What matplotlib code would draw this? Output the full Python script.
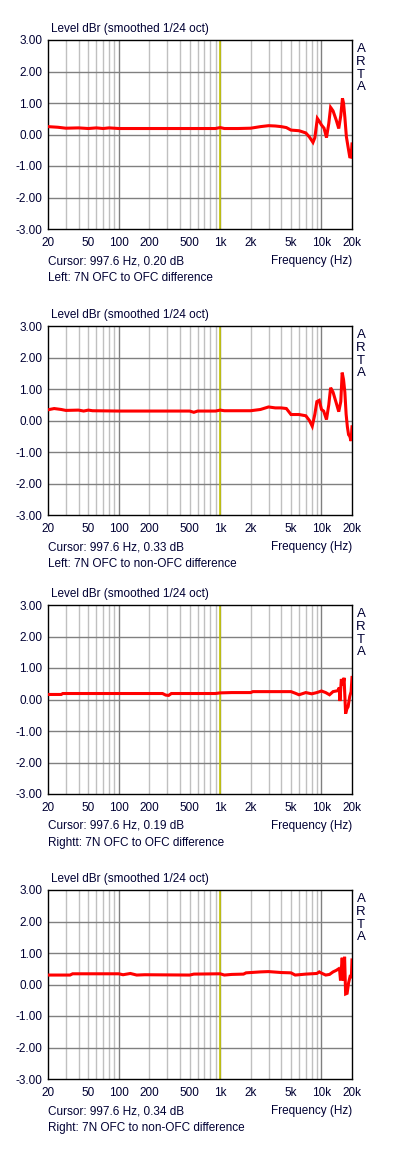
import numpy as np
import matplotlib.pyplot as plt
from matplotlib.ticker import FixedLocator, NullFormatter

# frequency (Hz) / level (dB)
freq_1 = [20, 25, 30, 40, 50, 60, 70, 80, 100, 200, 500, 900, 1000, 1100, 1500, 2000,
          2500, 3000, 3500, 4000, 4500, 5000, 6000, 7000, 7600, 8240, 8600, 9100,
          9600, 10000, 10600, 11200, 11800, 12300, 13000, 14000, 14800, 15500, 16100,
          16500, 17000, 17600, 18300, 19000, 19600, 20000]
level_1 = [0.25, 0.23, 0.20, 0.21, 0.19, 0.21, 0.19, 0.21, 0.19, 0.19, 0.19, 0.19, 0.22, 0.19, 0.19, 0.20,
           0.25, 0.28, 0.27, 0.25, 0.22, 0.14, 0.12, 0.05, -0.08, -0.25, -0.10, 0.51,
           0.40, 0.30, 0.20, -0.10, 0.35, 0.86, 0.75, 0.45, 0.19, 0.60, 1.15,
           1.00, 0.55, -0.07, -0.40, -0.71, -0.72, -0.30]

freq_2 = [20, 23, 27, 30, 40, 45, 50, 55, 100, 300, 500, 550, 600, 900, 1000, 1100, 2000,
          2500, 3000, 3500, 4000, 4500, 5000, 6000, 7000, 7600, 8100, 8600, 9000,
          9500, 10000, 10500, 11200, 11800, 12300, 13000, 14000, 14800, 15500, 16000,
          16500, 17000, 17500, 18000, 18500, 19000, 19600, 20000]
level_2 = [0.34, 0.38, 0.35, 0.32, 0.33, 0.30, 0.33, 0.31, 0.30, 0.30, 0.30, 0.26, 0.30, 0.30, 0.33, 0.31, 0.31,
           0.35, 0.43, 0.40, 0.40, 0.38, 0.19, 0.19, 0.15, 0.00, -0.18, 0.20, 0.60,
           0.64, 0.35, 0.30, 0.03, 0.50, 1.04, 0.90, 0.55, 0.28, 0.60, 1.52,
           1.30, 0.90, 0.20, -0.20, -0.45, -0.50, -0.65, -0.20]

freq_3 = [20, 27, 28, 100, 270, 290, 310, 330, 900, 1000, 1300, 2000, 2100, 5000, 5500,
          6000, 7000, 8000, 9000, 10000, 11000, 12000, 13000, 14500, 15000, 15200, 15700,
          16300, 16700, 17300, 17800, 18300, 19000, 19600, 20000]
level_3 = [0.16, 0.16, 0.19, 0.19, 0.19, 0.14, 0.13, 0.19, 0.19, 0.21, 0.22, 0.22, 0.25, 0.25, 0.20,
           0.15, 0.22, 0.18, 0.22, 0.27, 0.22, 0.15, 0.25, 0.28, 0.38, -0.05, 0.65,
           0.45, 0.69, -0.45, -0.30, -0.23, 0.10, 0.25, 0.70]

freq_4 = [20, 33, 35, 100, 110, 130, 150, 180, 500, 550, 1000, 1100, 1300, 1700, 1800,
          2500, 3000, 4000, 5000, 5500, 7000, 9000, 9500, 10000, 11000, 12000, 13000,
          14000, 14800, 15100, 15400, 16000, 16500, 16900, 17300, 17900, 18500, 19300,
          19700, 20000]
level_4 = [0.30, 0.30, 0.34, 0.34, 0.31, 0.35, 0.30, 0.31, 0.30, 0.33, 0.34, 0.30, 0.32, 0.33, 0.37,
           0.40, 0.41, 0.38, 0.37, 0.30, 0.33, 0.35, 0.40, 0.36, 0.30, 0.32, 0.40,
           0.45, 0.50, 0.45, 0.13, 0.85, 0.12, 0.88, -0.30, -0.28, 0.05, 0.30,
           0.20, 0.78]

cursor_texts = ["Cursor: 997.6 Hz, 0.20 dB", "Cursor: 997.6 Hz, 0.33 dB",
                "Cursor: 997.6 Hz, 0.19 dB", "Cursor: 997.6 Hz, 0.34 dB"]
captions = ["Left: 7N OFC to OFC difference", "Left: 7N OFC to non-OFC difference",
            "Rightt: 7N OFC to OFC difference", "Right: 7N OFC to non-OFC difference"]

x_ticks = [20, 50, 100, 200, 500, 1000, 2000, 5000, 10000, 20000]
x_labels = ["20", "50", "100", "200", "500", "1k", "2k", "5k", "10k", "20k"]
y_ticks = [-3, -2, -1, 0, 1, 2, 3]
cursor_f = 997.6

plt.rcParams['font.family'] = ['Liberation Sans', 'DejaVu Sans']
txt = '#000033'
fs = 8.5

W, H = 400, 1150
fig = plt.figure(figsize=(W / 100, H / 100), dpi=100)

tops = [40, 326, 605, 890]
series = [(freq_1, level_1), (freq_2, level_2), (freq_3, level_3), (freq_4, level_4)]

minor_f = [f * d for d in (10, 100, 1000) for f in range(2, 10)] + [20, 30, 40, 50, 60, 70, 80, 90]
minor_f = sorted(set(v for v in minor_f if 20 < v < 20000 and v not in (100, 1000, 10000)))

for i, (top, (fr, lv)) in enumerate(zip(tops, series)):
    h = 189
    ax = fig.add_axes([48 / W, 1 - (top + h) / H, 304 / W, h / H])
    ax.set_xscale('log')
    ax.set_xlim(20, 20000)
    ax.set_ylim(-3, 3)

    for f in minor_f:
        ax.axvline(f, color='#c0c0c0', lw=1.0, zorder=1)
    for f in (100, 1000, 10000):
        ax.axvline(f, color='#808080', lw=1.0, zorder=1)
    for v in y_ticks[1:-1]:
        ax.axhline(v, color='#808080', lw=1.0, zorder=1)
    ax.axvline(cursor_f, color='#c8c800', lw=1.2, zorder=2)

    ax.plot(fr, lv, color='#ff0000', lw=2.2, zorder=3, solid_joinstyle='miter')

    ax.xaxis.set_major_locator(FixedLocator(x_ticks))
    ax.xaxis.set_minor_formatter(NullFormatter())
    ax.xaxis.set_minor_locator(FixedLocator([]))
    ax.set_xticklabels(x_labels)
    ax.set_yticks(y_ticks)
    ax.set_yticklabels([f"{v:.2f}" for v in y_ticks])
    ax.tick_params(length=0, labelsize=fs, labelcolor=txt, pad=4)
    ax.tick_params(axis='x', pad=6)
    for s in ax.spines.values():
        s.set_color('black')
        s.set_linewidth(1.0)

    ax.text(0.01, 1.025, "Level dBr (smoothed 1/24 oct)", transform=ax.transAxes,
            fontsize=fs, color=txt, ha='left', va='bottom')
    for k, ch in enumerate("ARTA"):
        fig.text(361 / W, 1 - (top + 9 + 12.8 * k) / H, ch, fontsize=fs + 1,
                 color=txt, ha='center', va='center')
    fig.text(48 / W, 1 - (top + h + 32) / H, cursor_texts[i], fontsize=fs,
             color=txt, ha='left', va='center')
    fig.text(352 / W, 1 - (top + h + 32) / H, "Frequency (Hz)", fontsize=fs,
             color=txt, ha='right', va='center')
    fig.text(48 / W, 1 - (top + h + 49) / H, captions[i], fontsize=fs,
             color=txt, ha='left', va='center')

fig.savefig("out.png", dpi=100)
